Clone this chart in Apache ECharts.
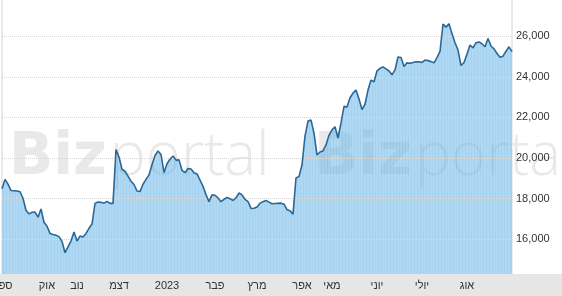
<!DOCTYPE html>
<html>
<head>
<meta charset="utf-8">
<script src="https://cdn.jsdelivr.net/npm/echarts@6/dist/echarts.min.js"></script>
<style>
html,body{margin:0;padding:0;background:#fff;}
#c{width:562px;height:296px;}
</style>
</head>
<body>
<div id="c"></div>
<script>
// Closing values (roughly every second trading day), Sep 2022 - Sep 2023
const values = [
18490,18950,18720,18400,18390,18380,18340,18020,17430,17250,
17330,17340,17090,17490,16840,16640,16290,16240,16200,16130,
15900,15340,15630,15910,16360,15910,16160,16110,16290,16540,
16750,17770,17840,17820,17780,17870,17770,17770,20420,20050,
19450,19350,19110,18860,18700,18380,18350,18710,18950,19170,
19670,20130,20350,20180,19280,19720,19940,20100,19900,19910,
19400,19280,19490,19460,19280,19220,18920,18610,18200,17850,
18190,18170,18040,17850,17970,18060,18000,17910,18040,18280,
18190,17970,17860,17520,17530,17590,17780,17850,17910,17830,
17750,17760,17770,17780,17730,17460,17400,17240,19020,19090,
19660,21080,21820,21870,21230,20150,20300,20350,20650,21120,
21390,21540,20990,21720,22550,22510,22970,23200,23350,22910,
22390,22650,23350,23840,23760,24290,24420,24490,24390,24290,
24100,24340,24980,24950,24510,24690,24670,24710,24740,24740,
24710,24830,24800,24750,24690,24950,25250,26600,26450,26620,
26130,25680,25320,24560,24710,25120,25570,25430,25680,25720,
25630,25480,25890,25520,25380,25150,24960,25020,25260,25480,
25240
];
const categories = values.map((v, i) => String(i));
const monthLabels = ['ספט','אוק','נוב','דצמ','2023','פבר','מרץ','אפר','מאי','יוני','יולי','אוג'];
const monthIndex  = [0, 15, 25, 39, 55, 71, 85, 100, 110, 125, 140, 155];
const yMin = 14000, yMax = 28000, yStep = 2000;
const yLabelMin = 16000, yLabelMax = 26000;

const chart = echarts.init(document.getElementById('c'), null, {renderer: 'canvas'});
const labelMap = {};
monthIndex.forEach((idx, k) => { labelMap[idx] = monthLabels[k]; });

chart.setOption({
  animation: false,
  backgroundColor: '#ffffff',
  grid: {
    left: 2, right: 50, top: -4.36, bottom: 16.1,
    containLabel: false, outerBoundsMode: 'none',
    show: true, borderColor: '#d4d4d4', borderWidth: 1, backgroundColor: 'transparent'
  },
  graphic: [
    {type: 'text', z: 0, style: {text: 'Biz', x: 9, y: 188, verticalAlign: 'bottom', font: 'bold 58px "DejaVu Sans"', fill: '#e9e9e9'}},
    {type: 'text', z: 0, style: {text: 'portal', x: 110, y: 188, verticalAlign: 'bottom', font: '300 60px "Open Sans"', fill: '#e9e9e9'}},
    {type: 'text', z: 0, style: {text: 'Biz', x: 314, y: 188, verticalAlign: 'bottom', font: 'bold 58px "DejaVu Sans"', fill: '#e9e9e9'}},
    {type: 'text', z: 0, style: {text: 'portal', x: 415, y: 188, verticalAlign: 'bottom', font: '300 60px "Open Sans"', fill: '#e9e9e9'}},
    {type: 'rect', z: 6, shape: {x: 0, y: 274, width: 562, height: 22}, style: {fill: '#e6e6e6'}}
  ],
  xAxis: {
    type: 'category',
    data: categories,
    boundaryGap: false,
    z: 10,
    axisLine: {show: false},
    axisTick: {show: false},
    splitLine: {show: false},
    axisLabel: {
      show: true,
      interval: (idx) => labelMap[idx] !== undefined,
      formatter: (v, idx) => labelMap[idx] || '',
      hideOverlap: false,
      color: '#333',
      fontSize: 11,
      fontFamily: '"Liberation Sans", Arial, sans-serif',
      margin: 1
    }
  },
  yAxis: {
    type: 'value',
    position: 'right',
    min: yMin, max: yMax, interval: yStep,
    z: 3,
    axisLine: {show: false},
    axisTick: {show: false},
    splitLine: {show: true, lineStyle: {color: '#d6d6d6', type: 'dotted', width: 1}},
    axisLabel: {
      color: '#333',
      fontSize: 11,
      fontFamily: '"Liberation Sans", Arial, sans-serif',
      margin: 4,
      hideOverlap: false,
      formatter: (v) => (v < yLabelMin || v > yLabelMax) ? '' : v.toLocaleString('en-US')
    }
  },
  series: [
    {
      type: 'line',
      data: values,
      z: 2,
      showSymbol: false,
      symbol: 'none',
      lineStyle: {width: 0, opacity: 0},
      areaStyle: {color: 'rgba(80,168,228,0.52)', opacity: 1, origin: 'start'}
    },
    {
      type: 'bar',
      data: values,
      z: 3,
      barWidth: 1,
      itemStyle: {color: 'rgba(255,255,255,0.3)'}
    },
    {
      type: 'line',
      data: values,
      z: 4,
      showSymbol: false,
      symbol: 'none',
      lineStyle: {color: '#2a6898', width: 1.6}
    }
  ]
});
</script>
</body>
</html>
